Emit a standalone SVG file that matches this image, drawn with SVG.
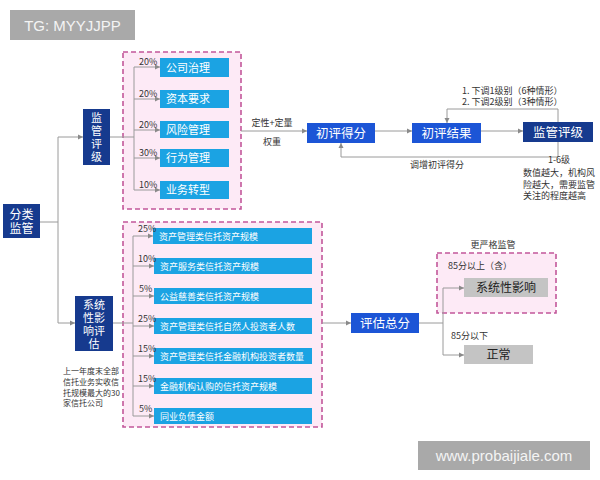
<svg xmlns="http://www.w3.org/2000/svg" width="600" height="480" viewBox="0 0 600 480">
<defs>
<marker id="ah" markerWidth="6" markerHeight="6" refX="5" refY="3" orient="auto" markerUnits="userSpaceOnUse">
<path d="M0,0.5 L5,3 L0,5.5 Z" fill="#8a8a8a"/>
</marker>
<style>
text{font-family:"Noto Sans CJK SC","Noto Sans",sans-serif;}
.ln{fill:none;stroke:#9a9a9a;stroke-width:1;}
.ar{fill:none;stroke:#9a9a9a;stroke-width:1;marker-end:url(#ah);}
.dash{fill:#fdeaf6;stroke:#c2579a;stroke-width:1.6;stroke-dasharray:5,3;}
.lb{fill:#1ba3e3;}
.bl{fill:#1c55d6;}
.nv{fill:#163a8e;}
.gr{fill:#c4c4c4;}
.pc{font-size:9px;fill:#333;}
.sm{font-size:9px;fill:#333;}
.nt{font-size:8px;fill:#333;}
.lbt{font-size:11px;fill:#fff;}
.lst{font-size:9px;fill:#fff;}
.vt{font-size:11px;fill:#fff;}
</style>
</defs>
<rect width="600" height="480" fill="#ffffff"/>
<g id="tg"><rect x="10" y="10" width="125" height="30" fill="#a9a9a9"/><text x="72.5" y="30.5" text-anchor="middle" style="font-family:'Liberation Sans',sans-serif" font-size="15" fill="#f4f4f4">TG: MYYJJPP</text></g>
<g id="wm"><rect x="418" y="441" width="172" height="29" fill="#a9a9a9"/><text x="504" y="460.5" text-anchor="middle" style="font-family:'Liberation Sans',sans-serif" font-size="15" fill="#f4f4f4">www.probaijiale.com</text></g>

<g id="group-top"><rect class="dash" x="123" y="52" width="118" height="157"/></g>
<g id="group-bottom"><rect class="dash" x="123" y="222" width="199" height="205"/></g>
<g id="group-strict"><rect class="dash" x="437" y="253" width="119" height="60"/></g>

<g id="connectors">
<path class="ln" d="M40,222 H58"/>
<path class="ln" d="M58,137 V323"/>
<path class="ar" d="M58,137 H83"/>
<path class="ar" d="M58,323 H75"/>
<path class="ln" d="M110,137 H134"/>
<path class="ln" d="M134,67 V190"/>
<path class="ar" d="M134,67 H160"/>
<path class="ar" d="M134,99 H160"/>
<path class="ar" d="M134,130 H160"/>
<path class="ar" d="M134,158 H160"/>
<path class="ar" d="M134,190 H160"/>
<path class="ln" d="M113,323 H133"/>
<path class="ln" d="M133,236 V416"/>
<path class="ar" d="M133,236 H153"/>
<path class="ar" d="M133,266 H154"/>
<path class="ar" d="M133,296 H154"/>
<path class="ar" d="M133,326 H154"/>
<path class="ar" d="M133,356 H154"/>
<path class="ar" d="M133,386 H154"/>
<path class="ar" d="M133,416 H154"/>
<path class="ar" d="M241,131 H307"/>
<path class="ar" d="M375,131 H412"/>
<path class="ar" d="M481,131 H523"/>
<path class="ar" d="M558,122 V109 H447 V123"/>
<path class="ar" d="M558,142 V157 H341 V143"/>
<path class="ar" d="M322,323 H351"/>
<path class="ln" d="M419,323 H443"/>
<path class="ln" d="M443,288 V355"/>
<path class="ar" d="M443,288 H464"/>
<path class="ar" d="M443,355 H464"/>
</g>

<g id="n-fenlei"><rect class="nv" x="3" y="204" width="37" height="34"/><text x="21.5" y="218.5" text-anchor="middle" font-size="12" fill="#fff">分类</text><text x="21.5" y="233" text-anchor="middle" font-size="12" fill="#fff">监管</text></g>
<g id="n-jgpj"><rect class="nv" x="83" y="109" width="27" height="56"/><text class="vt" x="96.5" y="122" text-anchor="middle">监</text><text class="vt" x="96.5" y="135" text-anchor="middle">管</text><text class="vt" x="96.5" y="148" text-anchor="middle">评</text><text class="vt" x="96.5" y="161" text-anchor="middle">级</text></g>
<g id="n-xtx"><rect class="nv" x="75" y="296" width="38" height="55"/><text class="vt" x="94" y="308.5" text-anchor="middle">系统</text><text class="vt" x="94" y="321.5" text-anchor="middle">性影</text><text class="vt" x="94" y="334.5" text-anchor="middle">响评</text><text class="vt" x="94" y="347.5" text-anchor="middle">估</text></g>

<g id="n-t1"><rect class="lb" x="160" y="58" width="69" height="19"/><text class="lbt" x="166" y="71.5">公司治理</text><text class="pc" x="139" y="65">20%</text></g>
<g id="n-t2"><rect class="lb" x="160" y="90" width="69" height="18"/><text class="lbt" x="166" y="103">资本要求</text><text class="pc" x="139" y="97">20%</text></g>
<g id="n-t3"><rect class="lb" x="160" y="121" width="69" height="17"/><text class="lbt" x="166" y="133.5">风险管理</text><text class="pc" x="139" y="128">20%</text></g>
<g id="n-t4"><rect class="lb" x="160" y="149" width="69" height="18"/><text class="lbt" x="166" y="162">行为管理</text><text class="pc" x="139" y="156">30%</text></g>
<g id="n-t5"><rect class="lb" x="160" y="181" width="69" height="18"/><text class="lbt" x="166" y="194">业务转型</text><text class="pc" x="139" y="188">10%</text></g>

<g id="n-b1"><rect class="lb" x="153" y="228" width="159" height="16"/><text class="lst" x="159" y="239.5">资产管理类信托资产规模</text><text class="pc" x="138" y="232">25%</text></g>
<g id="n-b2"><rect class="lb" x="154" y="258" width="158" height="16"/><text class="lst" x="160" y="269.5">资产服务类信托资产规模</text><text class="pc" x="138" y="262">10%</text></g>
<g id="n-b3"><rect class="lb" x="154" y="288" width="158" height="16"/><text class="lst" x="160" y="299.5">公益慈善类信托资产规模</text><text class="pc" x="139" y="292">5%</text></g>
<g id="n-b4"><rect class="lb" x="154" y="318" width="158" height="16"/><text class="lst" x="160" y="329.5">资产管理类信托自然人投资者人数</text><text class="pc" x="138" y="322">25%</text></g>
<g id="n-b5"><rect class="lb" x="154" y="348" width="158" height="16"/><text class="lst" x="160" y="359.5">资产管理类信托金融机构投资者数量</text><text class="pc" x="138" y="352">15%</text></g>
<g id="n-b6"><rect class="lb" x="154" y="378" width="158" height="16"/><text class="lst" x="160" y="389.5">金融机构认购的信托资产规模</text><text class="pc" x="138" y="382">15%</text></g>
<g id="n-b7"><rect class="lb" x="154" y="408" width="158" height="16"/><text class="lst" x="160" y="419.5">同业负债金额</text><text class="pc" x="139" y="412">5%</text></g>

<g id="note-left"><text class="nt" x="63" y="374">上一年度末全部</text><text class="nt" x="63" y="385">信托业务实收信</text><text class="nt" x="63" y="396">托规模最大的30</text><text class="nt" x="63" y="406">家信托公司</text></g>

<g id="lbl-dx"><text class="sm" x="272" y="126" text-anchor="middle">定性+定量</text><text class="sm" x="272" y="145" text-anchor="middle">权重</text></g>
<g id="n-cpdf"><rect class="bl" x="307" y="123" width="68" height="20"/><text x="341" y="137.5" text-anchor="middle" font-size="12.5" fill="#fff">初评得分</text></g>
<g id="n-cpjg"><rect class="bl" x="412" y="123" width="69" height="20"/><text x="446.5" y="137.5" text-anchor="middle" font-size="12.5" fill="#fff">初评结果</text></g>
<g id="n-jgpj2"><rect class="nv" x="523" y="122" width="70" height="20"/><text x="558" y="136.5" text-anchor="middle" font-size="12.5" fill="#fff">监管评级</text></g>
<g id="lbl-down"><text class="sm" x="462" y="94">1. 下调1级别（6种情形）</text><text class="sm" x="462" y="104.5">2. 下调2级别（3种情形）</text></g>
<g id="lbl-up"><text class="sm" x="437" y="168" text-anchor="middle">调增初评得分</text></g>
<g id="lbl-16"><text class="sm" x="548" y="163">1-6级</text><text class="sm" x="523" y="176">数值越大，机构风</text><text class="sm" x="523" y="187.5">险越大，需要监管</text><text class="sm" x="523" y="199">关注的程度越高</text></g>

<g id="n-pgzf"><rect class="bl" x="351" y="313" width="68" height="20"/><text x="385" y="327.5" text-anchor="middle" font-size="12.5" fill="#fff">评估总分</text></g>
<g id="lbl-strict"><text class="sm" x="493" y="248" text-anchor="middle">更严格监管</text><text class="sm" x="448" y="269">85分以上（含）</text></g>
<g id="n-xtxyx"><rect class="gr" x="464" y="278" width="84" height="19"/><text x="506" y="292" text-anchor="middle" font-size="12" fill="#222">系统性影响</text></g>
<g id="lbl-below"><text class="sm" x="451" y="339">85分以下</text></g>
<g id="n-zc"><rect class="gr" x="464" y="345" width="69" height="19"/><text x="498.5" y="359" text-anchor="middle" font-size="12" fill="#222">正常</text></g>
</svg>
